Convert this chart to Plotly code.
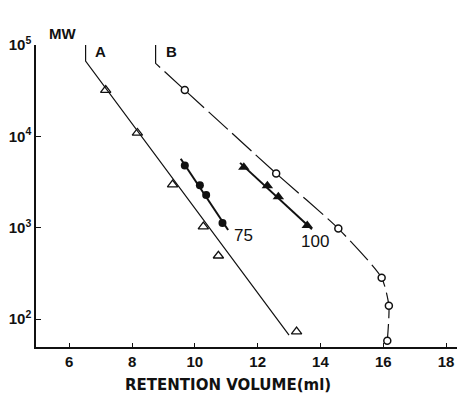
import plotly.graph_objects as go

# Curve A (calibration line, open triangles)
a_line_x = [6.52, 6.52, 13.0]
a_line_y = [104000, 66600, 67]
a_pts_x = [7.16, 8.17, 9.29, 10.27, 10.75, 13.24]
a_pts_y = [32100, 10900, 2960, 1030, 494, 73]

# Curve B (open circles, broken line)
b_top_x = [8.75, 8.75, 9.68]
b_top_y = [104000, 63000, 32100]
b_curve_x = [9.68, 12.59, 14.57, 15.95, 16.18, 16.13]
b_curve_y = [32100, 3930, 980, 283, 140, 58]
b_pts_x = [9.68, 12.59, 14.57, 15.95, 16.18, 16.13]
b_pts_y = [32100, 3930, 980, 283, 140, 58]

# Series 75 (filled circles)
s75_x = [9.68, 10.16, 10.36, 10.88]
s75_y = [4800, 2920, 2280, 1130]
s75_line_x = [9.55, 11.06]
s75_line_y = [5680, 946]

# Series 100 (filled triangles)
s100_x = [11.56, 12.31, 12.66, 13.58]
s100_y = [4600, 2880, 2180, 1060]
s100_line_x = [11.44, 13.73]
s100_line_y = [5130, 962]

x_ticks = [6, 8, 10, 12, 14, 16, 18]
y_tickvals = [100, 1000, 10000, 100000]
y_ticktext = ["10<sup>2</sup>", "10<sup>3</sup>", "10<sup>4</sup>", "10<sup>5</sup>"]

fig = go.Figure()
black = "#111111"

fig.add_trace(go.Scatter(x=a_line_x, y=a_line_y, mode="lines",
                         line=dict(color=black, width=1.2), cliponaxis=False))
fig.add_trace(go.Scatter(x=a_pts_x, y=a_pts_y, mode="markers",
                         marker=dict(symbol="triangle-up-open", size=9, color=black,
                                     line=dict(width=1.3)), cliponaxis=False))
fig.add_trace(go.Scatter(x=b_top_x, y=b_top_y, mode="lines",
                         line=dict(color=black, width=1.2, dash="26px,6px"), cliponaxis=False))
fig.add_trace(go.Scatter(x=b_curve_x, y=b_curve_y, mode="lines",
                         line=dict(color=black, width=1.2, dash="26px,6px",
                                   shape="spline", smoothing=0.6), cliponaxis=False))
fig.add_trace(go.Scatter(x=b_pts_x, y=b_pts_y, mode="markers",
                         marker=dict(symbol="circle", size=7, color="white",
                                     line=dict(width=1.5, color=black)), cliponaxis=False))
fig.add_trace(go.Scatter(x=s75_line_x, y=s75_line_y, mode="lines",
                         line=dict(color=black, width=2)))
fig.add_trace(go.Scatter(x=s75_x, y=s75_y, mode="markers",
                         marker=dict(symbol="circle", size=8, color=black)))
fig.add_trace(go.Scatter(x=s100_line_x, y=s100_line_y, mode="lines",
                         line=dict(color=black, width=2)))
fig.add_trace(go.Scatter(x=s100_x, y=s100_y, mode="markers",
                         marker=dict(symbol="triangle-up", size=10, color=black)))

font_main = "Liberation Sans, Arial, sans-serif"

fig.update_layout(
    width=457, height=405,
    margin=dict(l=36, r=0, t=45, b=58),
    paper_bgcolor="white", plot_bgcolor="white",
    showlegend=False,
    font=dict(family=font_main, color=black, size=15),
    xaxis=dict(range=[4.94, 18.35], tickvals=x_ticks,
               ticktext=["<b>%d</b>" % v for v in x_ticks],
               ticks="inside", ticklen=4,
               tickcolor=black, showline=True, linecolor=black, linewidth=1.5,
               showgrid=False, zeroline=False,
               tickfont=dict(size=15, family=font_main, color=black)),
    yaxis=dict(type="log", range=[1.695, 5.0], tickvals=y_tickvals,
               ticktext=["<b>%s</b>" % t for t in y_ticktext],
               ticks="inside", ticklen=5, tickcolor=black, showline=True,
               linecolor=black, linewidth=1.5, showgrid=False, zeroline=False,
               tickfont=dict(size=15, family=font_main, color=black)),
    annotations=[
        dict(text="<b>MW</b>", xref="paper", yref="paper", x=0.0254, y=1.074,
             showarrow=False, font=dict(size=15, family=font_main, color=black)),
        dict(text="<b>RETENTION VOLUME(ml)</b>", xref="paper", yref="paper", x=0.457, y=-0.162,
             showarrow=False, font=dict(size=15, family="DejaVu Sans", color=black)),
        dict(text="<b>A</b>", x=7.01, y=4.93, showarrow=False,
             font=dict(size=15, family=font_main, color=black)),
        dict(text="<b>B</b>", x=9.25, y=4.93, showarrow=False,
             font=dict(size=15, family=font_main, color=black)),
        dict(text="75", x=11.56, y=2.917, showarrow=False,
             font=dict(size=17, family=font_main, color=black)),
        dict(text="100", x=13.82, y=2.855, showarrow=False,
             font=dict(size=17, family=font_main, color=black)),
    ],
)

fig.write_html("out.html")
